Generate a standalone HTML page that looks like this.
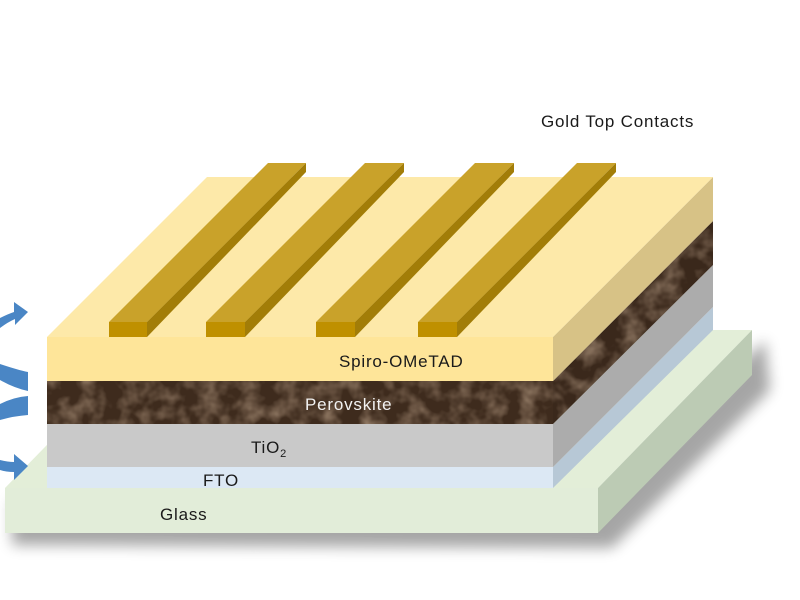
<!DOCTYPE html>
<html><head><meta charset="utf-8"><style>
html,body{margin:0;padding:0;background:#fff;width:800px;height:600px;overflow:hidden}
text{font-family:"Liberation Sans",sans-serif;font-size:17px;fill:#1a1a1a;letter-spacing:0.8px}
</style></head><body>
<svg width="800" height="600" viewBox="0 0 800 600" xmlns="http://www.w3.org/2000/svg">
<defs>
<filter id="sh" x="-10%" y="-10%" width="130%" height="140%"><feGaussianBlur stdDeviation="7"/></filter>
<filter id="tex" x="0" y="0" width="100%" height="100%">
<feTurbulence type="fractalNoise" baseFrequency="0.05" numOctaves="3" seed="4" result="n"/>
<feColorMatrix in="n" type="matrix" values="0 0 0 0 0.45  0 0 0 0 0.32  0 0 0 0 0.22  0 0 0 -1.4 0.85" result="c"/>
<feComposite in="c" in2="SourceGraphic" operator="in"/>
</filter>
</defs>
<path d="M12,500 L605,500 L765,340 L770,390 L612,548 L12,545 Z" fill="#000" opacity="0.35" filter="url(#sh)"/>
<polygon points="5,488 598,488 752,330 159,330" fill="#e3eed8"/>
<polygon points="598,488 752,330 752,375 598,533" fill="#bccbb4"/>
<rect x="5" y="488" width="593" height="45" fill="#e2edd9"/>
<polygon points="553,467 713,307 713,330 553,488" fill="#b7c8d6"/>
<polygon points="553,424 713,265 713,307 553,467" fill="#acacac"/>
<polygon points="553,381 713,221 713,265 553,424" fill="#3a281b"/>
<polygon points="553,381 713,221 713,265 553,424" fill="#000" filter="url(#tex)"/>
<polygon points="553,337 713,177 713,221 553,381" fill="#d7c286"/>
<polygon points="47,337 553,337 713,177 207,177" fill="#fde9a9"/>
<rect x="47" y="337" width="506" height="44" fill="#fee599"/>
<rect x="47" y="381" width="506" height="43" fill="#3e2b1d"/>
<rect x="47" y="381" width="506" height="43" fill="#000" filter="url(#tex)"/>
<rect x="47" y="424" width="506" height="43" fill="#c9c9c9"/>
<rect x="47" y="467" width="506" height="21" fill="#dce8f4"/>
<g>
<polygon points="109,322 147,322 306,163 268,163" fill="#c9a22a"/>
<polygon points="147,322 306,163 306,172 147,337" fill="#a27d08"/>
<rect x="109" y="322" width="38" height="15" fill="#bf9000"/>
<polygon points="206,322 245,322 404,163 365,163" fill="#c9a22a"/>
<polygon points="245,322 404,163 404,172 245,337" fill="#a27d08"/>
<rect x="206" y="322" width="39" height="15" fill="#bf9000"/>
<polygon points="316,322 355,322 514,163 475,163" fill="#c9a22a"/>
<polygon points="355,322 514,163 514,172 355,337" fill="#a27d08"/>
<rect x="316" y="322" width="39" height="15" fill="#bf9000"/>
<polygon points="418,322 457,322 616,163 577,163" fill="#c9a22a"/>
<polygon points="457,322 616,163 616,172 457,337" fill="#a27d08"/>
<rect x="418" y="322" width="39" height="15" fill="#bf9000"/>
</g>
<g fill="#4a86c5">
<path d="M0,318 Q8,314 14,312 L14,302 L28,312 L15,325 L15,319 Q8,322 0,328 Z"/>
<path d="M0,364 Q18,370 28,372 L28,391 Q14,388 0,380 Z"/>
<path d="M0,404 Q14,397 28,396 L28,415 Q14,416 0,420 Z"/>
<path d="M0,460 Q8,462 14,462 L14,454 L28,466 L14,480 L14,472 Q6,472 0,470 Z"/>
</g>
<text x="541" y="127" font-size="17">Gold Top Contacts</text>
<text x="339" y="367">Spiro-OMeTAD</text>
<text x="305" y="410" style="fill:#f2f2f2">Perovskite</text>
<text x="251" y="453">TiO<tspan font-size="11" dy="4">2</tspan></text>
<text x="203" y="486">FTO</text>
<text x="160" y="520">Glass</text>
</svg>
</body></html>
